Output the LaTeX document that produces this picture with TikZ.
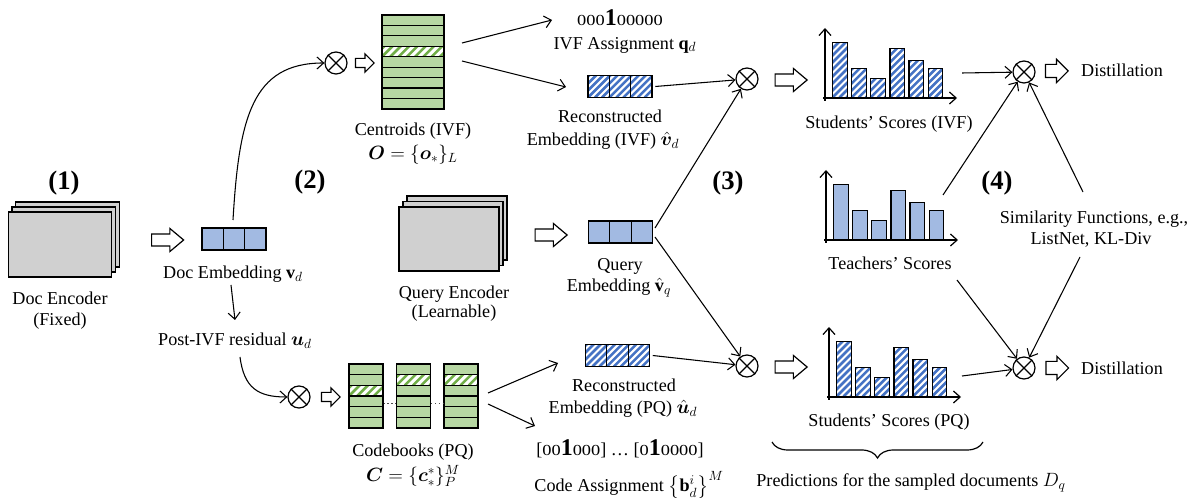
\documentclass[tikz,border=0pt]{standalone}
\usepackage{fontspec}
\setmainfont{Liberation Serif}
\usepackage{amsmath,bm}
\usetikzlibrary{arrows.meta,shapes.arrows,decorations.pathreplacing}
\definecolor{embblue}{HTML}{A2BAE2}
\definecolor{hatchB}{HTML}{4472C4}
\definecolor{cgreen}{HTML}{B7D7A3}
\definecolor{hatchG}{HTML}{70AD47}
\definecolor{encgray}{HTML}{D0D0D0}
\newcommand\zz[1]{{\fontsize{11.5}{12}\selectfont\scalebox{1.2}[1]{#1}}}
\newcommand\bigone{{\fontsize{18}{18}\selectfont\bfseries 1}}
\tikzset{
  txt/.style={font=\fontsize{13.6}{15.8}\selectfont, align=center, inner sep=0pt},
  num/.style={font=\bfseries\fontsize{20}{24}\selectfont, inner sep=0pt},
  conn/.style={line width=0.8pt, -{Straight Barb[length=5pt,width=9pt,line width=0.8pt]}},
  axis/.style={line width=1pt, -{Straight Barb[length=5pt,width=9pt,line width=0.9pt]}},
  otimes/.style={circle, draw, line width=0.9pt, minimum size=16.5pt, inner sep=0pt},
  stripes/.style 2 args={fill=white, path picture={\foreach \k in {-14,...,12}{\draw[line width=1.9pt, #1] ([xshift=\k*#2]path picture bounding box.south west) -- ++(70,-70);}}},
  cell/.style={draw, line width=0.9pt, minimum width=16pt, minimum height=16.5pt, inner sep=0pt},
  solidcell/.style={cell, fill=embblue},
  hatchcell/.style={cell, stripes={hatchB}{5.25pt}},
  crow/.style={draw, line width=0.9pt, fill=cgreen, minimum width=46.5pt, minimum height=7.83pt, inner sep=0pt},
  cbrow/.style={draw, line width=0.9pt, fill=cgreen, minimum width=25.5pt, minimum height=8pt, inner sep=0pt},
  greenhatch/.style={stripes={hatchG}{6.2pt}},
  encbox/.style={draw, fill=encgray, line width=0.9pt, inner sep=0pt},
  bar/.style={draw, line width=0.9pt, minimum width=10.9pt, inner sep=0pt, anchor=south west},
  solidbar/.style={bar, fill=embblue},
  hatchbar/.style={bar, stripes={hatchB}{5.25pt}},
  bigarrow/.style={single arrow, draw, fill=white, line width=0.9pt, inner xsep=0pt, inner ysep=4.1pt, minimum width=0pt, minimum height=24pt, single arrow head extend=4.1pt, single arrow tip angle=80},
  smallarrow/.style={single arrow, draw, fill=white, line width=0.9pt, inner xsep=0pt, inner ysep=3pt, minimum width=0pt, minimum height=14pt, single arrow head extend=3.4pt, single arrow tip angle=90},
  distarrow/.style={single arrow, draw, fill=white, line width=0.9pt, inner xsep=0pt, inner ysep=4.5pt, minimum width=0pt, minimum height=17pt, single arrow head extend=3.75pt, single arrow tip angle=90},
}
\newcommand\otm[2]{\node[otimes] (#1) at (#2) {};
  \draw[line width=0.9pt] (#1.north east) -- (#1.south west) (#1.north west) -- (#1.south east);}
\newcommand\vect[4]{%
  \node[#4] (#1-1) at ({#2-21.33},#3) {};
  \node[#4] (#1-2) at (#2,#3) {};
  \node[#4] (#1-3) at ({#2+21.33},#3) {};}
\newcommand\chart[4]{%
  \draw[axis] (#2,#3+3) -- (#2,#3-70);
  \draw[axis] (#2-2,#3) -- (#2+132,#3);
  \foreach \h [count=\i] in {55,29,19,49,37,29}
    \node[#4, minimum height=\h*0.75pt] (#1-\i) at ({#2+7+(\i-1)*19.1},#3) {};}
\begin{document}
\begin{tikzpicture}[x=0.75pt,y=-0.75pt]
\useasboundingbox (0,0) rectangle (1192,498);

% ---------- (1) doc encoder ----------
\node[num] (n1) at (64,183) {(1)};
\node[encbox, minimum width=77.5pt, minimum height=48.75pt] (de3) at (67.5,234.5) {};
\node[encbox, minimum width=77.5pt, minimum height=48.75pt] (de2) at (63.75,239.5) {};
\node[encbox, minimum width=77.5pt, minimum height=48.75pt] (de1) at (60,244.5) {};
\node[txt] (delab) at (60,310.5) {Doc Encoder\\(Fixed)};
\node[bigarrow] (ba1) at (164,240) {};

% doc embedding
\vect{demb}{234}{239}{solidcell}
\node[txt] (dembl) at (233,274) {Doc Embedding $\mathbf{v}_d$};
\coordinate (pv1) at (231,285);
\node[txt] (pivf) at (235,341) {Post-IVF residual $\bm{u}_d$};
\coordinate (pv2) at (235,320);
\draw[conn] (pv1) -- (pv2);

% ---------- (2) IVF / PQ ----------
\node[num] (n2) at (310,182) {(2)};
\otm{ot1}{336,63}
\coordinate (c0) at (233,220);
\draw[conn] (c0) .. controls (239,118) and (252,63) .. (ot1);
\node[smallarrow] (sa1) at (362.5,63) {};

\foreach \i in {1,...,9}{
  \ifnum\i=4
    \node[crow, greenhatch] (cent-\i) at (413,{15+10.44*(\i-0.5)}) {};
  \else
    \node[crow] (cent-\i) at (413,{15+10.44*(\i-0.5)}) {};
  \fi}
\node[txt] (centl) at (413,131) {Centroids (IVF)};
\node[txt] (centm) at (413,155) {$\bm{O}=\{\bm{o}_*\}_L$};

\coordinate (ca1) at (462,43);
\coordinate (ca2) at (462,61);
\node[txt] (qbits) at (620,18) {\zz{000}\bigone\zz{00000}};
\node[txt] (qlab) at (625,45) {IVF Assignment $\mathbf{q}_d$};
\coordinate (qin) at (552,20);
\draw[conn] (ca1) -- (qin);

\vect{rv}{620}{86.5}{hatchcell}
\coordinate (rvin) at (566,87);
\draw[conn] (ca2) -- (rvin);
\node[txt] (rvl1) at (610,116) {Reconstructed};
\node[txt] (rvl2) at (603,141) {Embedding (IVF) $\hat{\bm{v}}_d$};

% PQ branch
\otm{ot2}{299,397}
\coordinate (pc0) at (240,357);
\draw[conn] (pc0) .. controls (244,388) and (258,397) .. (ot2);
\node[smallarrow] (sa2) at (328.5,397) {};

\foreach \c/\x/\hr in {1/366/3,2/413.5/2,3/461/2}{
  \foreach \i in {1,...,6}{
    \ifnum\i=\hr
      \node[cbrow, greenhatch] (cb\c-\i) at (\x,{364+10.67*(\i-0.5)}) {};
    \else
      \node[cbrow] (cb\c-\i) at (\x,{364+10.67*(\i-0.5)}) {};
    \fi}}
\draw[dotted, line width=0.9pt, black!70] ([yshift=-1.5pt]cb1-4.east) -- ([yshift=-1.5pt]cb2-4.west);
\draw[dotted, line width=0.9pt, black!70] ([yshift=-1.5pt]cb2-4.east) -- ([yshift=-1.5pt]cb3-4.west);
\node[txt] (cbl) at (413,452) {Codebooks (PQ)};
\node[txt] (cbm) at (413,476) {$\bm{C}=\{\bm{c}_*^*\}_P^M$};

\coordinate (cba1) at (488,393);
\coordinate (cba2) at (488,404);
\vect{ru}{617.5}{355.5}{hatchcell}
\coordinate (ruin) at (558,363);
\draw[conn] (cba1) -- (ruin);
\coordinate (bin) at (535,426);
\draw[conn] (cba2) -- (bin);
\node[txt] (rul1) at (624,385) {Reconstructed};
\node[txt] (rul2) at (623,409) {Embedding (PQ) $\hat{\bm{u}}_d$};
\node[txt] (bbits) at (620,449) {[\zz{00}\bigone\zz{000}] … [\zz{0}\bigone\zz{0000}]};
\node[txt] (blab) at (629,485) {Code Assignment $\left\{\mathbf{b}_d^i\right\}^M$};

% query encoder
\node[encbox, minimum width=75pt, minimum height=48pt] (qe3) at (457,228) {};
\node[encbox, minimum width=75pt, minimum height=48pt] (qe2) at (453,233.5) {};
\node[encbox, minimum width=75pt, minimum height=48pt] (qe1) at (449,239) {};
\node[txt] (qel1) at (454,294) {Query Encoder};
\node[txt] (qel2) at (454,313) {(Learnable)};
\node[bigarrow] (ba2) at (547.5,235) {};
\vect{qv}{620.5}{232}{solidcell}
\node[txt] (qvl1) at (620,266) {Query};
\node[txt] (qvl2) at (619,288) {Embedding $\hat{\mathbf{v}}_q$};

% ---------- (3) scoring ----------
\node[num] (n3) at (728,183) {(3)};
\otm{ot3}{747,79}
\otm{ot4}{747,366}
\coordinate (qvo1) at (655,228);
\coordinate (qvo2) at (655,237);
\draw[conn] ([xshift=2pt]rv-3.east) -- (ot3);
\draw[conn] (qvo1) -- (ot3);
\draw[conn] (qvo2) -- (ot4);
\draw[conn] ([xshift=2pt]ru-3.east) -- (ot4);
\node[bigarrow] (ba3) at (787.5,80) {};
\node[bigarrow] (ba4) at (787.5,367) {};

\chart{s1}{825}{98}{hatchbar}
\node[txt] (s1l) at (889,124) {Students’ Scores (IVF)};
\chart{t1}{826}{240}{solidbar}
\node[txt] (t1l) at (890,263) {Teachers’ Scores};
\chart{s2}{829}{397}{hatchbar}
\node[txt] (s2l) at (889,422) {Students’ Scores (PQ)};

\draw[decorate, decoration={brace, amplitude=12pt}, line width=0.9pt] (983,442) -- (772,442);
\node[txt] (pred) at (911,483) {Predictions for the sampled documents $D_q$};

% ---------- (4) distillation ----------
\node[num] (n4) at (997,183) {(4)};
\otm{ot5}{1024,72}
\otm{ot6}{1024,368}
\node[distarrow] (da1) at (1053.5,71) {};
\node[distarrow] (da2) at (1054,368) {};
\node[txt] (dist1) at (1122,70) {Distillation};
\node[txt] (dist2) at (1122,368) {Distillation};
\node[txt] (sim1) at (1094,219) {Similarity Functions, e.g.,};
\node[txt] (sim2) at (1091,240) {ListNet, KL-Div};

\coordinate (s1o) at (962,73);
\coordinate (s2o) at (962,376);
\coordinate (tu) at (943,195);
\coordinate (td) at (957,280);
\coordinate (su) at (1083,192);
\coordinate (sd) at (1080,257);
\draw[conn] (s1o) -- (ot5);
\draw[conn] (tu) -- (ot5);
\draw[conn] (su) -- (ot5);
\draw[conn] (s2o) -- (ot6);
\draw[conn] (td) -- (ot6);
\draw[conn] (sd) -- (ot6);
\end{tikzpicture}
\end{document}
